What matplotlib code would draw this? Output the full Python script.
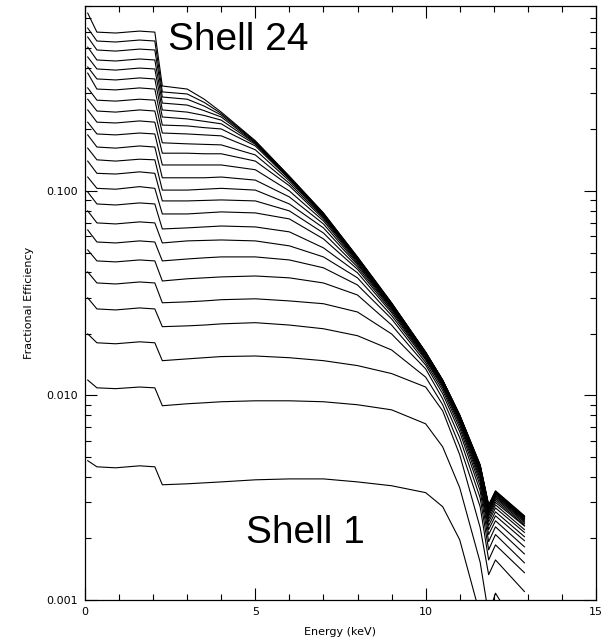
import matplotlib.pyplot as plt
from matplotlib.ticker import FixedLocator, LogLocator, NullFormatter, FixedFormatter

# Energie-Stuetzstellen (keV), gemeinsam fuer alle Kurven
energy = [0.08, 0.35, 0.9, 1.6, 2.05, 2.27, 3.0, 3.5, 4.0, 5.0, 6.0, 7.0, 8.0,
          9.0, 10.0, 10.5, 11.0, 11.6, 11.85, 12.05, 12.9]

# Fractional efficiency, kumuliert ueber die Schalen 1..n
shell_01 = [0.00480, 0.00448, 0.00443, 0.00453, 0.00448, 0.00366, 0.00370, 0.00374, 0.00378, 0.00387, 0.00391,
            0.00391, 0.00378, 0.00362, 0.00335, 0.00286, 0.00197, 0.000845, 0.000325, 0.000407, 0.000260]
shell_02 = [0.0119, 0.0109, 0.0108, 0.0110, 0.0109, 0.00891, 0.00911, 0.00921, 0.00932, 0.00942, 0.00942,
            0.00932, 0.00901, 0.00851, 0.00727, 0.00561, 0.00354, 0.00153, 0.000845, 0.00108, 0.000638]
shell_03 = [0.0200, 0.0181, 0.0179, 0.0183, 0.0181, 0.0148, 0.0151, 0.0153, 0.0155, 0.0156, 0.0153,
            0.0148, 0.0140, 0.0128, 0.0110, 0.00841, 0.00513, 0.00226, 0.00133, 0.00157, 0.00110]
shell_04 = [0.0300, 0.0265, 0.0262, 0.0268, 0.0265, 0.0217, 0.0219, 0.0221, 0.0224, 0.0227, 0.0221,
            0.0212, 0.0196, 0.0167, 0.0123, 0.00901, 0.00567, 0.00286, 0.00157, 0.00186, 0.00136]
shell_05 = [0.0402, 0.0355, 0.0351, 0.0359, 0.0355, 0.0284, 0.0287, 0.0290, 0.0294, 0.0297, 0.0290,
            0.0281, 0.0256, 0.0200, 0.0135, 0.00963, 0.00621, 0.00316, 0.00176, 0.00209, 0.00152]
shell_06 = [0.0515, 0.0455, 0.0450, 0.0460, 0.0455, 0.0363, 0.0372, 0.0376, 0.0380, 0.0384, 0.0376,
            0.0355, 0.0310, 0.0221, 0.0141, 0.0102, 0.00665, 0.00342, 0.00193, 0.00228, 0.00168]
shell_07 = [0.0645, 0.0563, 0.0557, 0.0570, 0.0563, 0.0455, 0.0465, 0.0471, 0.0476, 0.0476, 0.0460,
            0.0421, 0.0347, 0.0237, 0.0145, 0.0106, 0.00695, 0.00362, 0.00209, 0.00244, 0.00182]
shell_08 = [0.0799, 0.0698, 0.0690, 0.0706, 0.0698, 0.0557, 0.0570, 0.0573, 0.0576, 0.0570, 0.0539,
            0.0476, 0.0376, 0.0246, 0.0149, 0.0109, 0.00719, 0.00378, 0.00221, 0.00258, 0.00195]
shell_09 = [0.0989, 0.0864, 0.0854, 0.0874, 0.0864, 0.0652, 0.0660, 0.0667, 0.0674, 0.0667, 0.0631,
            0.0527, 0.0398, 0.0254, 0.0151, 0.0111, 0.00736, 0.00391, 0.00231, 0.00270, 0.00204]
shell_10 = [0.117, 0.103, 0.102, 0.105, 0.103, 0.0772, 0.0772, 0.0781, 0.0790, 0.0781, 0.0730,
            0.0583, 0.0414, 0.0259, 0.0153, 0.0113, 0.00752, 0.00402, 0.00241, 0.00282, 0.00214]
shell_11 = [0.140, 0.122, 0.121, 0.124, 0.122, 0.0894, 0.0894, 0.0899, 0.0904, 0.0894, 0.0799,
            0.0623, 0.0425, 0.0264, 0.0155, 0.0114, 0.00761, 0.00412, 0.00249, 0.00292, 0.00221]
shell_12 = [0.162, 0.142, 0.140, 0.143, 0.142, 0.101, 0.101, 0.102, 0.103, 0.101, 0.0864,
            0.0660, 0.0435, 0.0267, 0.0156, 0.0115, 0.00769, 0.00419, 0.00257, 0.00300, 0.00230]
shell_13 = [0.188, 0.164, 0.162, 0.166, 0.164, 0.116, 0.116, 0.116, 0.117, 0.113, 0.0935,
            0.0690, 0.0442, 0.0270, 0.0157, 0.0115, 0.00773, 0.00425, 0.00262, 0.00307, 0.00232]
shell_14 = [0.217, 0.190, 0.188, 0.192, 0.190, 0.134, 0.134, 0.134, 0.134, 0.127, 0.100,
            0.0714, 0.0448, 0.0272, 0.0158, 0.0116, 0.00778, 0.00431, 0.00267, 0.00313, 0.00236]
shell_15 = [0.249, 0.217, 0.215, 0.220, 0.217, 0.153, 0.153, 0.152, 0.152, 0.140, 0.106,
            0.0730, 0.0454, 0.0274, 0.0159, 0.0116, 0.00781, 0.00436, 0.00271, 0.00318, 0.00240]
shell_16 = [0.281, 0.246, 0.243, 0.249, 0.246, 0.172, 0.170, 0.169, 0.168, 0.150, 0.109,
            0.0742, 0.0458, 0.0275, 0.0159, 0.0117, 0.00784, 0.00439, 0.00274, 0.00322, 0.00243]
shell_17 = [0.319, 0.278, 0.275, 0.281, 0.278, 0.192, 0.190, 0.188, 0.186, 0.159, 0.112,
            0.0751, 0.0461, 0.0276, 0.0160, 0.0117, 0.00787, 0.00443, 0.00278, 0.00325, 0.00246]
shell_18 = [0.377, 0.315, 0.312, 0.319, 0.315, 0.210, 0.208, 0.204, 0.201, 0.166, 0.114,
            0.0757, 0.0464, 0.0277, 0.0161, 0.0117, 0.00790, 0.00446, 0.00281, 0.00329, 0.00248]
shell_19 = [0.404, 0.353, 0.349, 0.357, 0.353, 0.230, 0.225, 0.219, 0.213, 0.169, 0.115,
            0.0762, 0.0466, 0.0278, 0.0161, 0.0118, 0.00793, 0.00449, 0.00283, 0.00332, 0.00250]
shell_20 = [0.452, 0.395, 0.390, 0.399, 0.395, 0.249, 0.243, 0.234, 0.222, 0.171, 0.1157,
            0.0766, 0.0469, 0.0280, 0.0162, 0.0118, 0.00795, 0.00451, 0.00286, 0.00335, 0.00252]
shell_21 = [0.505, 0.437, 0.432, 0.442, 0.437, 0.269, 0.263, 0.247, 0.230, 0.172, 0.116,
            0.0770, 0.0471, 0.0281, 0.0162, 0.01185, 0.00798, 0.00453, 0.00288, 0.00336, 0.00254]
shell_22 = [0.566, 0.489, 0.483, 0.494, 0.489, 0.288, 0.281, 0.260, 0.235, 0.1735, 0.117,
            0.0774, 0.0473, 0.0282, 0.01626, 0.01187, 0.00800, 0.00455, 0.00289, 0.00338, 0.00255]
shell_23 = [0.626, 0.541, 0.535, 0.547, 0.541, 0.305, 0.298, 0.271, 0.239, 0.175, 0.1177,
            0.0777, 0.0474, 0.0283, 0.0163, 0.0119, 0.00802, 0.00457, 0.00290, 0.00340, 0.00257]
shell_24 = [0.741, 0.598, 0.592, 0.605, 0.598, 0.326, 0.315, 0.281, 0.243, 0.176, 0.118,
            0.0781, 0.0476, 0.0284, 0.0163, 0.0119, 0.00804, 0.00458, 0.00292, 0.00342, 0.00258]

shells = [shell_01, shell_02, shell_03, shell_04, shell_05, shell_06, shell_07, shell_08,
          shell_09, shell_10, shell_11, shell_12, shell_13, shell_14, shell_15, shell_16,
          shell_17, shell_18, shell_19, shell_20, shell_21, shell_22, shell_23, shell_24]

x_ticks = [0, 5, 10, 15]
y_ticks = [0.001, 0.01, 0.1]
y_tick_labels = ['0.001', '0.010', '0.100']

fig = plt.figure(figsize=(6.11, 6.42), dpi=100)
ax = fig.add_axes([0.1391, 0.0654, 0.8363, 0.9257])

for werte in shells:
    ax.plot(energy, werte, color='black', linewidth=0.8)

ax.set_yscale('log')
ax.set_xlim(0, 15)
ax.set_ylim(0.001, 0.805)

ax.xaxis.set_major_locator(FixedLocator(x_ticks))
ax.xaxis.set_minor_locator(FixedLocator(range(0, 16)))
ax.yaxis.set_major_locator(FixedLocator(y_ticks))
ax.yaxis.set_major_formatter(FixedFormatter(y_tick_labels))
ax.yaxis.set_minor_locator(LogLocator(base=10, subs=range(2, 10)))
ax.yaxis.set_minor_formatter(NullFormatter())

ax.tick_params(which='both', direction='in', top=True, right=True,
               labelsize=8, width=0.8, color='black')
ax.tick_params(which='major', length=8.5, pad=5)
ax.tick_params(which='minor', length=4.3)
for s in ax.spines.values():
    s.set_linewidth(0.9)

ax.set_xlabel('Energy (keV)', fontsize=8, labelpad=7)
ax.set_ylabel('Fractional Efficiency', fontsize=8, labelpad=9)

ax.text(2.44, 0.489, 'Shell 24', fontsize=28, family='Liberation Sans',
        ha='left', va='baseline')
ax.text(4.72, 0.0019, 'Shell 1', fontsize=28, family='Liberation Sans',
        ha='left', va='baseline')

plt.savefig('out.png', dpi=100)
